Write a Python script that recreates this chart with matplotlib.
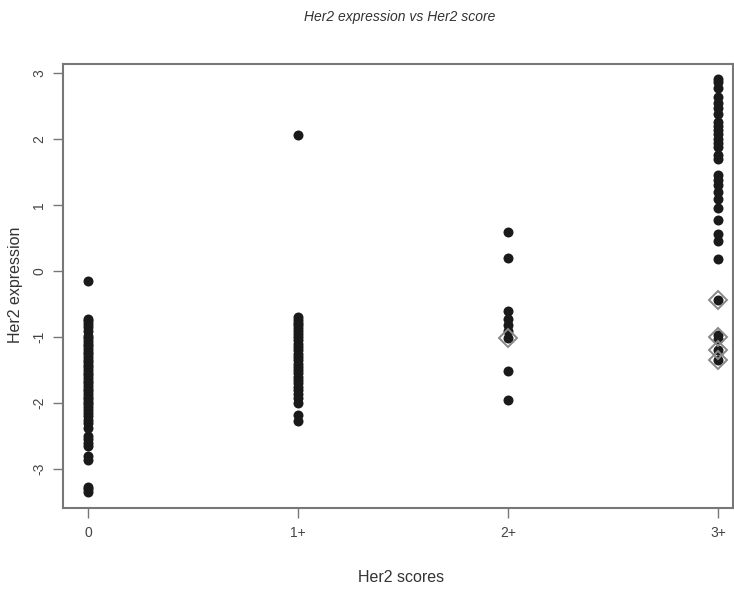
import matplotlib
matplotlib.use("Agg")
import matplotlib.pyplot as plt
import numpy as np

plt.rcParams['font.family'] = ['Liberation Sans', 'DejaVu Sans']

categories = ['0', '1+', '2+', '3+']

score0 = [-0.15, -0.72, -0.76, -0.8, -0.85, -0.9, -0.98, -1.02, -1.06, -1.1, -1.14, -1.18,
          -1.22, -1.26, -1.3, -1.34, -1.38, -1.42, -1.46, -1.5, -1.54, -1.58, -1.62, -1.66,
          -1.7, -1.74, -1.78, -1.82, -1.86, -1.9, -1.94, -1.98, -2.02, -2.06, -2.1, -2.15,
          -2.2, -2.25, -2.3, -2.38, -2.5, -2.55, -2.6, -2.65, -2.8, -2.86, -3.27, -3.3, -3.35]
score1 = [2.07, -0.7, -0.74, -0.78, -0.82, -0.86, -0.9, -0.95, -1.0, -1.05, -1.1, -1.15,
          -1.2, -1.25, -1.3, -1.35, -1.4, -1.45, -1.5, -1.55, -1.6, -1.65, -1.7, -1.75,
          -1.8, -1.86, -1.92, -2.0, -2.18, -2.27]
score2 = [0.6, 0.2, -0.6, -0.72, -0.82, -0.9, -1.02, -1.52, -1.95]
score3 = [2.92, 2.86, 2.78, 2.64, 2.55, 2.47, 2.38, 2.26, 2.2, 2.14, 2.08, 2.0, 1.95,
          1.88, 1.76, 1.7, 1.45, 1.38, 1.3, 1.2, 1.1, 0.95, 0.78, 0.56, 0.46, 0.18,
          -0.44, -0.97, -1.03, -1.2, -1.35]

flag_scores = [2, 3, 3, 3, 3]
flag_values = [-1.02, -0.44, -1.0, -1.2, -1.35]

fig = plt.figure(figsize=(7.34, 5.89), dpi=100)
ax = fig.add_axes([63/734, 1-508/589, (733-63)/734, (508-64)/589])

for i, vals in enumerate([score0, score1, score2, score3]):
    ax.plot([i]*len(vals), vals, 'o', color='#1a1a1a', markersize=7.2,
            markeredgewidth=0, linestyle='none')

ax.plot(flag_scores, flag_values, 'D', markerfacecolor='none', markeredgecolor='#888888',
        markersize=9, markeredgewidth=1.4, linestyle='none')

ax.set_xlim(-0.12, 3.07)
ax.set_ylim(-3.59, 3.14)
ax.set_xticks(range(4))
ax.set_xticklabels(categories)
ax.set_yticks([-3, -2, -1, 0, 1, 2, 3])
ax.set_yticklabels(['-3', '-2', '-1', '0', '1', '2', '3'], rotation=90, va='center')

for s in ax.spines.values():
    s.set_color('#777777')
    s.set_linewidth(1.5)
ax.tick_params(axis='both', colors='#777777', length=7, width=1, labelsize=10,
               labelcolor='#444444')
ax.tick_params(axis='x', pad=6)
ax.tick_params(axis='y', pad=5)

fig.text(400/734, 1-17/589, 'Her2 expression vs Her2 score', fontstyle='italic',
         fontsize=10, color='#333333', ha='center', va='center')
fig.text(401/734, 1-577/589, 'Her2 scores', fontsize=11.5, color='#333333',
         ha='center', va='center')
fig.text(16/734, 1-285/589, 'Her2 expression', fontsize=11.5, color='#333333',
         ha='center', va='center', rotation=90)

fig.savefig('out.png', dpi=100)
